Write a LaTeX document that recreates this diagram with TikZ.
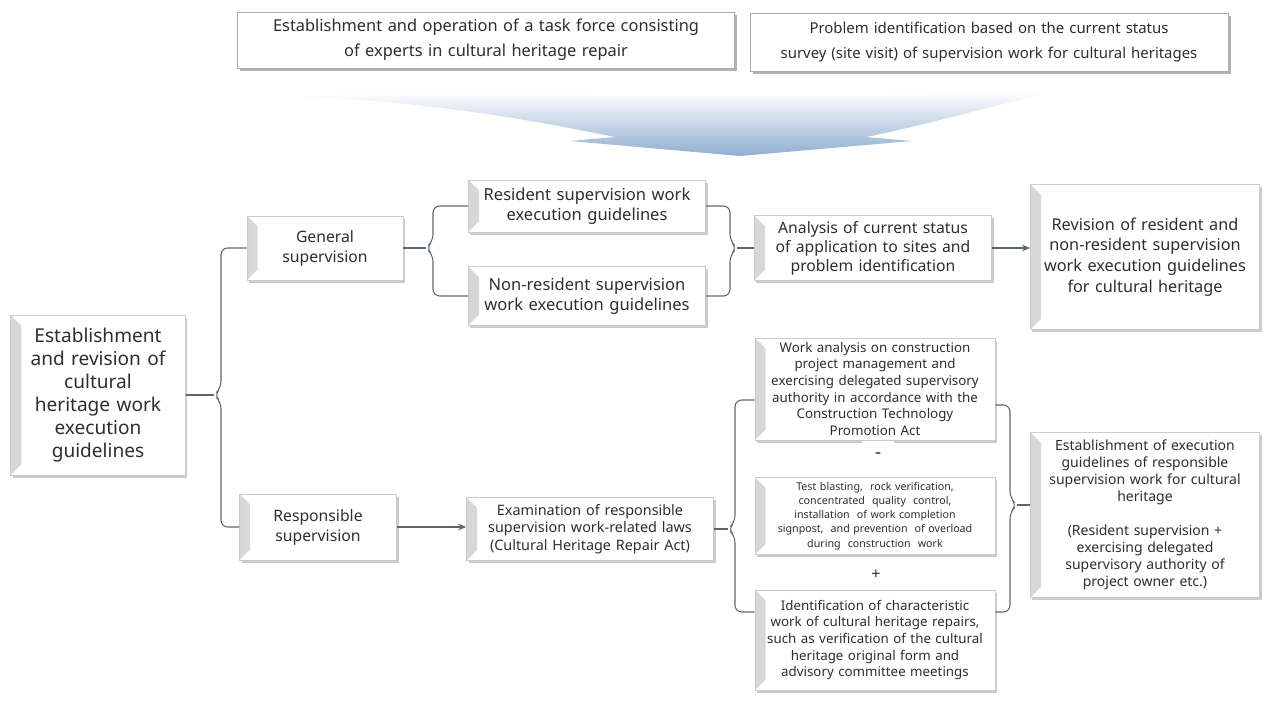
\documentclass[tikz,border=0pt]{standalone}
\usepackage{fontspec}
\setmainfont{Noto Sans}
\usetikzlibrary{shadows,calc,arrows.meta}
\definecolor{txt}{HTML}{2E2E2E}
\definecolor{linec}{HTML}{5C6672}
\definecolor{arrowblue}{HTML}{8FADD1}
\begin{document}
\begin{tikzpicture}[x=0.75pt,y=-0.75pt,
  box/.style={draw=gray!40, line width=0.5pt, fill=white, align=center, inner sep=2pt, text=txt,
    drop shadow={shadow xshift=1.5pt, shadow yshift=-2pt, fill=black, opacity=0.2}},
  bevel/.style={path picture={\fill[left color=gray!32, right color=white]
      (path picture bounding box.north west) -- ([xshift=8pt,yshift=-8pt]path picture bounding box.north west)
      -- ([xshift=8pt,yshift=8pt]path picture bounding box.south west) -- (path picture bounding box.south west) -- cycle;}},
  topbox/.style={draw=gray!65, line width=0.6pt, fill=white, align=center, inner sep=2pt, text=txt,
    drop shadow={shadow xshift=2pt, shadow yshift=-2pt, fill=black, opacity=0.3}},
  conn/.style={draw=linec, line width=0.8pt},
  arr/.style={conn, -{Stealth[length=6pt,width=5pt]}},
  sign/.style={text=txt, inner sep=1pt, fill=white}
]
\useasboundingbox (0,0) rectangle (1272,705);

% top boxes
\node[topbox, minimum width=372.75pt, minimum height=42pt, text width=368pt, font=\fontsize{12.3}{18.75}\selectfont] (top1) at (486,40)
  {Establishment and operation of a task force consisting\\of experts in cultural heritage repair};
\node[topbox, minimum width=358.5pt, minimum height=43.5pt, text width=354pt, font=\fontsize{11.2}{18.75}\selectfont] (top2) at (989,42)
  {Problem identification based on the current status\\survey (site visit) of supervision work for cultural heritages};

% big arrow
\shade[top color=white, bottom color=arrowblue]
  (280,96) .. controls (430,100) and (540,122) .. (615,137) -- (570,141) -- (740,156)
  -- (912,141) -- (866,137) .. controls (940,122) and (1010,100) .. (1060,92)
  .. controls (800,100) and (500,92) .. (280,96) -- cycle;

% nodes
\node[box, bevel, minimum width=129.75pt, minimum height=120pt, text width=127pt, font=\fontsize{14.3}{17.25}\selectfont] (main) at (98,395)
  {Establishment\\and revision of\\cultural\\heritage work\\execution\\guidelines};
\node[box, bevel, minimum width=117pt, minimum height=48pt, text width=112pt, font=\fontsize{11.8}{15}\selectfont] (gen) at (325,248)
  {General\\supervision};
\node[box, bevel, minimum width=117.75pt, minimum height=49.5pt, text width=112pt, font=\fontsize{11.8}{15}\selectfont] (resp) at (318,527)
  {Responsible\\supervision};
\node[box, bevel, minimum width=176.25pt, minimum height=39pt, text width=174pt, font=\fontsize{12.4}{14.8}\selectfont] (res) at (587,206)
  {Resident supervision work\\execution guidelines};
\node[box, bevel, minimum width=176.25pt, minimum height=44pt, text width=174pt, font=\fontsize{12.4}{15}\selectfont] (nonres) at (587,296)
  {Non-resident supervision\\work execution guidelines};
\node[box, bevel, minimum width=177pt, minimum height=48.75pt, text width=174pt, font=\fontsize{11.8}{14.3}\selectfont] (ana) at (873,248)
  {Analysis of current status\\of application to sites and\\problem identification};
\node[box, bevel, minimum width=170pt, minimum height=108.75pt, text width=168pt, font=\fontsize{12.2}{15.5}\selectfont] (rev) at (1145,257)
  {Revision of resident and\\non-resident supervision\\work execution guidelines\\for cultural heritage};
\node[box, bevel, minimum width=185.25pt, minimum height=47.25pt, text width=181pt, font=\fontsize{10.8}{13}\selectfont] (exam) at (590,529)
  {Examination of responsible\\supervision work-related laws\\(Cultural Heritage Repair Act)};
\node[box, bevel, minimum width=178.5pt, minimum height=76.5pt, text width=176pt, font=\fontsize{10}{12.5}\selectfont] (wa) at (875,389)
  {Work analysis on construction\\project management and\\exercising delegated supervisory\\authority in accordance with the\\Construction Technology\\Promotion Act};
\node[box, bevel, minimum width=178.5pt, minimum height=57.75pt, text width=176pt, font=\fontsize{8}{10.6}\selectfont] (tb) at (875,516)
  {Test blasting,\ \ rock verification,\\concentrated\ \ quality\ \ control,\\installation\ \ of work completion\\signpost,\ \ and prevention\ \ of overload\\during\ \ construction\ \ work};
\node[box, bevel, minimum width=178.5pt, minimum height=75pt, text width=176pt, font=\fontsize{10}{12.5}\selectfont] (id) at (875,640)
  {Identification of characteristic\\work of cultural heritage repairs,\\such as verification of the cultural\\heritage original form and\\advisory committee meetings};
\node[box, bevel, minimum width=170pt, minimum height=123.75pt, text width=168pt, font=\fontsize{10.5}{12.75}\selectfont] (est) at (1145,515)
  {Establishment of execution\\guidelines of responsible\\supervision work for cultural\\heritage\\[12.75pt](Resident supervision +\\exercising delegated\\supervisory authority of\\project owner etc.)};

\node[sign, minimum width=24pt, minimum height=22pt, font=\fontsize{14}{14}\selectfont\bfseries] (minus) at (878,456) {-};
\node[sign, font=\fontsize{12}{12}\selectfont] (plus) at (876,575) {+};

% brace x positions
\coordinate (bxA) at (221,0);
\coordinate (bxB) at (433,0);
\coordinate (bxC) at (730,0);
\coordinate (bxD) at (735,0);
\coordinate (bxE) at (1010,0);
\coordinate (waL) at ($(wa.west)+(0,11)$);
\coordinate (idL) at ($(id.west)+(0,-28)$);
\coordinate (waR) at ($(wa.east)+(0,16)$);
\coordinate (idR) at ($(id.east)+(0,-28)$);
\coordinate (estL) at ($(est.west)+(0,-10)$);

% brace: main -> general / responsible
\draw[conn, rounded corners=5] (gen.west) -- (gen.west -| bxA) -- ($(main.east -| bxA)+(0,-7)$)
  -- ($(main.east -| bxA)+(-7,0)$) -- ($(main.east -| bxA)+(0,7)$) -- (resp.west -| bxA) -- (resp.west);
\draw[conn] (main.east) -- ($(main.east -| bxA)+(-7,0)$);

% brace: general -> resident / non-resident
\draw[conn, rounded corners=5] (res.west) -- (res.west -| bxB) -- ($(gen.east -| bxB)+(0,-7)$)
  -- ($(gen.east -| bxB)+(-7,0)$) -- ($(gen.east -| bxB)+(0,7)$) -- (nonres.west -| bxB) -- (nonres.west);
\draw[conn] (gen.east) -- ($(gen.east -| bxB)+(-7,0)$);

% brace: resident / non-resident -> analysis
\draw[conn, rounded corners=5] (res.east) -- (res.east -| bxC) -- ($(ana.west -| bxC)+(0,-7)$)
  -- ($(ana.west -| bxC)+(7,0)$) -- ($(ana.west -| bxC)+(0,7)$) -- (nonres.east -| bxC) -- (nonres.east);
\draw[conn] ($(ana.west -| bxC)+(7,0)$) -- (ana.west);

% analysis -> revision
\draw[arr] (ana.east) -- (ana.east -| rev.west);

% responsible -> examination
\draw[arr] (resp.east) -- (resp.east -| exam.west);

% brace: examination -> work analysis / identification
\draw[conn, rounded corners=5] (waL) -- (waL -| bxD) -- ($(exam.east -| bxD)+(0,-7)$)
  -- ($(exam.east -| bxD)+(-7,0)$) -- ($(exam.east -| bxD)+(0,7)$) -- (idL -| bxD) -- (idL);
\draw[conn] (exam.east) -- ($(exam.east -| bxD)+(-7,0)$);

% brace: work analysis / identification -> establishment
\draw[conn, rounded corners=5] (waR) -- (waR -| bxE) -- ($(estL -| bxE)+(0,-7)$)
  -- ($(estL -| bxE)+(7,0)$) -- ($(estL -| bxE)+(0,7)$) -- (idR -| bxE) -- (idR);
\draw[conn] ($(estL -| bxE)+(7,0)$) -- (estL);
\end{tikzpicture}
\end{document}
